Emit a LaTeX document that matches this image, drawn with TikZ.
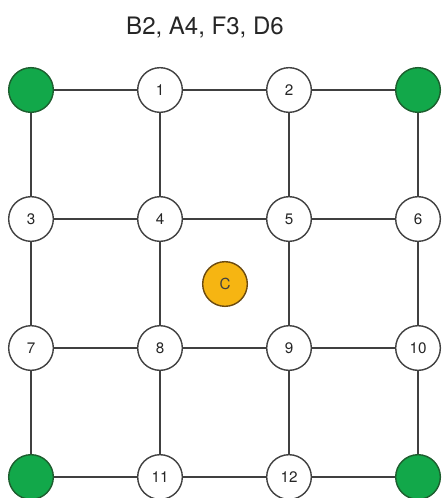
\documentclass[tikz,border=0pt]{standalone}
\usepackage{fontspec}
\setmainfont{TeX Gyre Heros}
\usetikzlibrary{positioning}

\definecolor{cornergreen}{HTML}{12A84A}
\definecolor{cornerdark}{HTML}{1D5E2E}
\definecolor{centreorange}{HTML}{F6B512}
\definecolor{centredark}{HTML}{6B4A10}
\definecolor{wiregray}{HTML}{404040}

\begin{document}
\begin{tikzpicture}[x=0.03cm, y=-0.03cm,
% Vertex style
		vertex/.style={circle
							    , fill=white
							    , draw=wiregray, line width=1.2pt
							    , minimum size=1.34cm
							    , inner sep=0pt
							    , text=black!85
							    , font=\fontsize{13}{15}\selectfont},
		corner/.style={circle
							    , fill=cornergreen
							    , draw=cornerdark, line width=1.2pt
							    , minimum size=1.34cm
							    , inner sep=0pt},
		centre/.style={circle
							    , fill=centreorange
							    , draw=centredark, line width=1.2pt
							    , minimum size=1.34cm
							    , inner sep=0pt
							    , text=black!75
							    , font=\fontsize{13}{15}\selectfont},
% Edge style
		wire/.style={draw=wiregray, line width=1pt},
		node distance=3.87cm, on grid
	]
	\useasboundingbox (0,0) rectangle (441,498);
%% Title
	\node [font=\fontsize{20.5}{24}\selectfont, text=black!85] (title) at (205,28) {B2, A4, F3, D6};
%% Draw vertices
	\node [corner] (g1) at (31,90) {};
	\node [vertex] (v1) [right=of g1] {1};
	\node [vertex] (v2) [right=of v1] {2};
	\node [corner] (g2) [right=of v2] {};

	\node [vertex] (v3) [below=of g1] {3};
	\node [vertex] (v4) [right=of v3] {4};
	\node [vertex] (v5) [right=of v4] {5};
	\node [vertex] (v6) [right=of v5] {6};

	\node [vertex] (v7) [below=of v3] {7};
	\node [vertex] (v8) [right=of v7] {8};
	\node [vertex] (v9) [right=of v8] {9};
	\node [vertex] (v10) [right=of v9] {10};

	\node [corner] (g3) [below=of v7] {};
	\node [vertex] (v11) [right=of g3] {11};
	\node [vertex] (v12) [right=of v11] {12};
	\node [corner] (g4) [right=of v12] {};

	\node [centre] (c) at (225,284) {C};
%% Draw edges
	\draw [wire] (g1) -- (v1) -- (v2) -- (g2);
	\draw [wire] (v3) -- (v4) -- (v5) -- (v6);
	\draw [wire] (v7) -- (v8) -- (v9) -- (v10);
	\draw [wire] (g3) -- (v11) -- (v12) -- (g4);
	\draw [wire] (g1) -- (v3) -- (v7) -- (g3);
	\draw [wire] (v1) -- (v4) -- (v8) -- (v11);
	\draw [wire] (v2) -- (v5) -- (v9) -- (v12);
	\draw [wire] (g2) -- (v6) -- (v10) -- (g4);
\end{tikzpicture}
\end{document}
